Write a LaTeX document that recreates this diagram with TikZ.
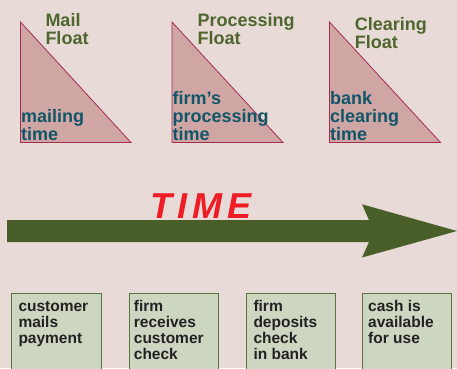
\documentclass[tikz,border=0pt]{standalone}
\usepackage{fontspec}
\setmainfont{Liberation Sans}
\definecolor{bgpink}{RGB}{232,218,215}
\definecolor{trifill}{RGB}{207,166,164}
\definecolor{triline}{RGB}{165,45,80}
\definecolor{floatgreen}{RGB}{78,102,46}
\definecolor{timeteal}{RGB}{16,86,104}
\definecolor{arrowgreen}{RGB}{74,94,42}
\definecolor{timered}{RGB}{238,28,37}
\definecolor{boxfill}{RGB}{204,214,192}
\definecolor{boxline}{RGB}{90,114,60}
\definecolor{boxtext}{RGB}{34,34,34}
\begin{document}
\begin{tikzpicture}[x=1pt,y=1pt,yscale=-1,
    floatlbl/.style={anchor=base west,inner sep=0pt,align=left,text=floatgreen,font=\fontsize{18}{18}\selectfont\bfseries},
    spanlbl/.style={anchor=base west,inner sep=0pt,align=left,text=timeteal,font=\fontsize{18}{18}\selectfont\bfseries},
    stagelbl/.style={anchor=base west,inner sep=0pt,align=left,text=boxtext,font=\fontsize{15.5}{16}\selectfont\bfseries},
    floattri/.style={draw=triline,fill=trifill,line width=0.8pt},
    stagebox/.style={draw=boxline,fill=boxfill,line width=1pt}]
        \fill [bgpink] (0,0) rectangle (457,368);
        \useasboundingbox (0,0) rectangle (457,368);
        \clip (0,0) rectangle (457,368);
        %Triangles
        \draw [floattri] (20.5,22) -- (20.5,142.5) -- (131,142.5) -- cycle;
        \draw [floattri] (172,22) -- (172,142.5) -- (283,142.5) -- cycle;
        \draw [floattri] (329.5,22) -- (329.5,142.5) -- (440.5,142.5) -- cycle;
        %Time arrow
        \fill [arrowgreen] (7,220) -- (369,220) -- (362,204.3) -- (457,231) -- (362,257.5) -- (369,242) -- (7,242) -- cycle;
        %Stage boxes
        \draw [stagebox] (11.7,293.7) rectangle (101.3,380);
        \draw [stagebox] (129,293.7) rectangle (218.3,380);
        \draw [stagebox] (246.7,293.7) rectangle (335.7,380);
        \draw [stagebox] (362.3,293.7) rectangle (451.7,380);

        % Text Node (anchored on last line)
        \node (mailflt) [floatlbl] at (45.3,44.3) {Mail\\Float};
        % Text Node
        \node (procflt) [floatlbl] at (197.3,44.3) {Processing\\Float};
        % Text Node
        \node (clearflt) [floatlbl] at (354.7,48.3) {Clearing\\Float};
        % Text Node
        \node (mailtm) [spanlbl] at (21,140) {mailing\\time};
        % Text Node
        \node (proctm) [spanlbl] at (172.5,140) {firm’s\\processing\\time};
        % Text Node
        \node (cleartm) [spanlbl] at (330,140) {bank\\clearing\\time};
        % Text Node
        \node (timelbl) [anchor=base west,inner sep=0pt,text=timered,font=\fontsize{36}{36}\selectfont\bfseries\itshape\addfontfeature{LetterSpace=14}] at (150,218) {TIME};
        % Text Node
        \node (mails) [stagelbl] at (18.3,343.3) {customer\\mails\\payment};
        % Text Node
        \node (recv) [stagelbl] at (133.7,359.3) {firm\\receives\\customer\\check};
        % Text Node
        \node (depo) [stagelbl] at (253.3,359.3) {firm\\deposits\\check\\in bank};
        % Text Node
        \node (avail) [stagelbl] at (368,343.3) {cash is\\available\\for use};
\end{tikzpicture}
\end{document}
